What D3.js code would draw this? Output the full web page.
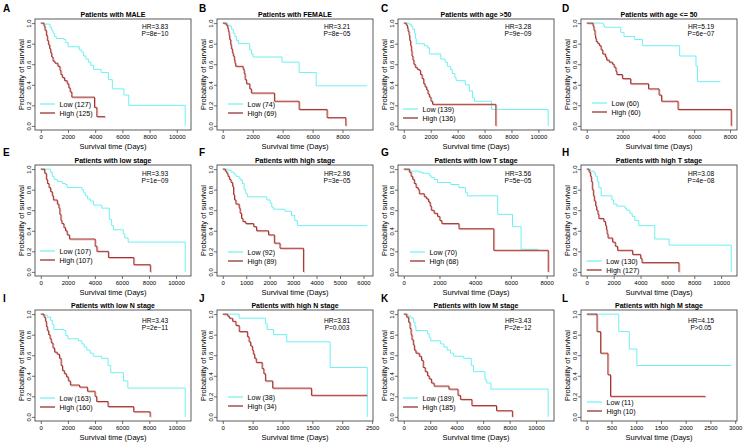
<!DOCTYPE html>
<html lang="en">
<head>
<meta charset="UTF-8">
<title>Survival by subgroup</title>
<script src="https://d3js.org/d3.v7.min.js"></script>
<style>
  body { margin: 0; background: #fff; }
  svg text { font-family: "Liberation Sans", Arial, Helvetica, sans-serif; fill: #000; }
</style>
</head>
<body>
<svg id="chart" width="747" height="443"></svg>
<script>
// panel text
var letters = ["A", "B", "C", "D", "E", "F", "G", "H", "I", "J", "K", "L"];
var titles = ["Patients with MALE", "Patients with FEMALE", "Patients with age >50", "Patients with age <= 50",
  "Patients with low stage", "Patients with high stage", "Patients with low T stage", "Patients with high T stage",
  "Patients with low N stage", "Patients with high N stage", "Patients with low M stage", "Patients with high M stage"];
var hrText = ["HR=3.83", "HR=3.21", "HR=3.28", "HR=5.19", "HR=3.93", "HR=2.96", "HR=3.56", "HR=3.08",
  "HR=3.43", "HR=3.81", "HR=3.43", "HR=4.15"];
var pText = ["P=8e\u221210", "P=8e\u221205", "P=9e\u221209", "P=6e\u221207", "P=1e\u221209", "P=3e\u221205", "P=5e\u221205", "P=4e\u221208",
  "P=2e\u221211", "P=0.003", "P=2e\u221212", "P>0.05"];
var lowN = [127, 74, 139, 60, 107, 92, 70, 130, 163, 38, 189, 11];
var highN = [125, 69, 136, 60, 107, 89, 68, 127, 160, 34, 185, 10];

var ticks10k = [0, 2000, 4000, 6000, 8000, 10000];
var ticks8k = [0, 2000, 4000, 6000, 8000];
var ticks6k = [0, 1000, 2000, 3000, 4000, 5000, 6000];
var ticks2500 = [0, 500, 1000, 1500, 2000, 2500];
var ticks3000 = [0, 500, 1000, 1500, 2000, 2500, 3000];
var xTicks = [ticks10k, ticks8k, ticks10k, ticks8k, ticks10k, ticks6k, ticks8k, ticks10k, ticks10k, ticks2500, ticks10k, ticks3000];
var yTicks = [0, 0.2, 0.4, 0.6, 0.8, 1.0];

// survival steps: [day, survival after that day]
var maleLow = [[0,1],[240,0.99],[680,0.96],[800,0.93],[900,0.90],[1020,0.87],[1140,0.85],[1700,0.84],[1840,0.81],[2010,0.77],[2840,0.74],[2980,0.72],[3150,0.68],[3320,0.65],[3520,0.62],[3680,0.59],[3880,0.55],[4440,0.52],[4970,0.45],[5260,0.36],[6110,0.30],[6470,0.20],[10620,0]];
var maleHigh = [[0,1],[240,0.97],[310,0.93],[410,0.88],[480,0.83],[560,0.79],[650,0.75],[730,0.71],[800,0.67],[900,0.63],[1040,0.61],[1260,0.58],[1410,0.54],[1480,0.50],[1580,0.47],[1750,0.44],[1940,0.41],[2060,0.37],[2160,0.33],[2280,0.28],[3950,0.18],[4120,0.09],[4730,0.09]];
var femaleLow = [[0,1],[330,0.98],[480,0.97],[590,0.94],[700,0.90],[810,0.87],[920,0.83],[1040,0.80],[1800,0.74],[1920,0.70],[2020,0.67],[3960,0.62],[5100,0.52],[6240,0.39],[9650,0.39]];
var femaleHigh = [[0,1],[220,0.98],[330,0.95],[370,0.92],[420,0.88],[460,0.84],[530,0.79],[570,0.75],[640,0.71],[700,0.68],[770,0.64],[810,0.61],[860,0.58],[1360,0.55],[1430,0.51],[1490,0.45],[1580,0.41],[1800,0.36],[1910,0.32],[3450,0.24],[5100,0.16],[6970,0.08],[8220,0]];
var oldLow = [[0,1],[370,0.99],[550,0.97],[670,0.94],[800,0.90],[880,0.85],[925,0.80],[1530,0.78],[1780,0.76],[1900,0.70],[2750,0.65],[3070,0.62],[3240,0.58],[3480,0.55],[3600,0.51],[3800,0.47],[3890,0.44],[4570,0.40],[4870,0.34],[5110,0.27],[5260,0.24],[6520,0.16],[10730,0]];
var oldHigh = [[0,1],[190,0.98],[270,0.95],[320,0.92],[390,0.88],[440,0.83],[510,0.78],[560,0.73],[610,0.68],[680,0.64],[750,0.60],[850,0.57],[1000,0.55],[1170,0.54],[1240,0.50],[1360,0.46],[1480,0.41],[1580,0.38],[1700,0.35],[1800,0.31],[1900,0.28],[2020,0.24],[2140,0.21],[6840,0]];
var youngLow = [[0,1],[930,0.98],[990,0.96],[1900,0.91],[2080,0.87],[2680,0.84],[3120,0.78],[5190,0.68],[6100,0.58],[6190,0.43],[7470,0.43]];
var youngHigh = [[0,1],[350,0.97],[400,0.93],[460,0.88],[490,0.85],[530,0.82],[620,0.80],[710,0.78],[800,0.74],[890,0.70],[1040,0.67],[1110,0.64],[1260,0.62],[1440,0.60],[1530,0.57],[1630,0.53],[1680,0.50],[1990,0.46],[2450,0.41],[3450,0.36],[4040,0.30],[4180,0.24],[5100,0.16],[8070,0]];
var lowStageLow = [[0,1],[730,0.97],[850,0.93],[980,0.90],[1220,0.88],[1590,0.86],[1830,0.85],[1950,0.82],[3050,0.80],[3170,0.77],[3290,0.74],[3460,0.71],[3660,0.69],[3900,0.65],[4510,0.62],[5070,0.51],[5240,0.45],[5370,0.41],[6100,0.37],[6220,0.33],[6460,0.29],[10680,0]];
var lowStageHigh = [[0,1],[290,0.96],[410,0.90],[490,0.86],[610,0.82],[730,0.78],[850,0.74],[930,0.70],[1220,0.66],[1340,0.62],[1410,0.56],[1490,0.50],[1560,0.47],[1710,0.43],[1830,0.40],[1950,0.36],[2120,0.32],[4020,0.25],[4150,0.20],[5000,0.14],[6880,0.07],[8100,0]];
var highStageLow = [[0,1],[210,0.99],[350,0.97],[490,0.95],[560,0.93],[700,0.91],[770,0.89],[840,0.86],[910,0.80],[980,0.76],[1050,0.73],[1880,0.70],[2020,0.67],[2090,0.63],[2160,0.61],[2650,0.59],[2930,0.55],[3070,0.50],[3180,0.45],[6160,0.45]];
var highStageHigh = [[0,1],[110,0.98],[170,0.96],[220,0.93],[280,0.90],[350,0.87],[420,0.83],[460,0.75],[500,0.70],[560,0.66],[700,0.62],[740,0.57],[800,0.52],[860,0.49],[980,0.47],[1320,0.44],[1440,0.40],[1950,0.36],[2200,0.28],[2440,0.23],[3440,0]];
var lowTLow = [[0,1],[370,0.98],[870,0.97],[1060,0.96],[1430,0.94],[1520,0.92],[1700,0.90],[1890,0.87],[2630,0.85],[3090,0.82],[3460,0.77],[3560,0.74],[5260,0.56],[6090,0.44],[6570,0.22],[7540,0.22]];
var lowTHigh = [[0,1],[310,0.97],[410,0.93],[500,0.90],[590,0.86],[690,0.82],[810,0.80],[870,0.76],[1150,0.73],[1280,0.71],[1390,0.68],[1480,0.64],[1540,0.60],[1700,0.57],[1890,0.54],[2020,0.50],[2130,0.47],[3090,0.42],[5040,0.21],[8090,0]];
var highTLow = [[0,1],[290,0.98],[540,0.96],[660,0.93],[780,0.88],[900,0.82],[1070,0.74],[1870,0.70],[2000,0.66],[2240,0.64],[2850,0.62],[2970,0.60],[3210,0.57],[3380,0.54],[3580,0.50],[3870,0.45],[5060,0.32],[6130,0.26],[10750,0]];
var highTHigh = [[0,1],[170,0.97],[270,0.93],[340,0.88],[410,0.80],[490,0.74],[560,0.69],[660,0.64],[730,0.60],[830,0.56],[900,0.52],[1270,0.49],[1390,0.45],[1460,0.41],[1510,0.37],[1580,0.33],[1920,0.29],[2120,0.25],[2290,0.21],[3410,0.17],[4010,0.13],[4110,0.09],[6860,0]];
var lowNLow = [[0,1],[190,0.99],[480,0.97],[730,0.94],[850,0.90],[970,0.85],[1690,0.84],[1840,0.79],[2010,0.76],[2780,0.74],[3030,0.71],[3200,0.68],[3390,0.65],[3630,0.62],[3870,0.59],[4480,0.57],[4960,0.50],[5160,0.43],[6100,0.35],[6420,0.28],[10650,0]];
var lowNHigh = [[0,1],[240,0.97],[340,0.93],[410,0.88],[480,0.84],[580,0.80],[680,0.76],[770,0.72],[900,0.67],[1020,0.63],[1210,0.61],[1380,0.57],[1500,0.50],[1600,0.45],[1740,0.42],[1890,0.39],[2030,0.35],[2180,0.31],[2860,0.29],[3440,0.25],[4000,0.20],[4120,0.15],[4960,0.10],[6850,0.05],[8060,0]];
var highNLow = [[0,1],[275,0.96],[714,0.91],[742,0.85],[852,0.80],[1071,0.73],[1797,0.48],[2418,0]];
var highNHigh = [[0,1],[82,0.98],[110,0.96],[165,0.93],[220,0.89],[275,0.83],[412,0.78],[440,0.73],[467,0.69],[495,0.65],[511,0.61],[533,0.57],[560,0.53],[659,0.47],[687,0.42],[714,0.35],[835,0.28],[1484,0.21],[2418,0.21]];
var lowMLow = [[0,1],[300,0.98],[550,0.96],[750,0.92],[850,0.88],[920,0.84],[1790,0.81],[1920,0.77],[2040,0.74],[2790,0.71],[3030,0.68],[3280,0.65],[3530,0.62],[3780,0.59],[4530,0.57],[5100,0.50],[5270,0.44],[6140,0.36],[6270,0.33],[6590,0.27],[10920,0]];
var lowMHigh = [[0,1],[220,0.97],[370,0.92],[470,0.86],[550,0.80],[620,0.75],[720,0.70],[800,0.65],[920,0.62],[1170,0.59],[1340,0.55],[1470,0.48],[1620,0.44],[1790,0.40],[1920,0.37],[2090,0.33],[2290,0.30],[3410,0.27],[4100,0.21],[4280,0.17],[5150,0.11],[7010,0.06],[8210,0]];
var highMLow = [[0,1],[647,0.83],[860,0.66],[1013,0.50],[2920,0.50]];
var highMHigh = [[0,1],[207,0.83],[280,0.62],[427,0.41],[480,0.20],[2400,0.20]];

var lowCurves = [maleLow, femaleLow, oldLow, youngLow, lowStageLow, highStageLow, lowTLow, highTLow, lowNLow, highNLow, lowMLow, highMLow];
var highCurves = [maleHigh, femaleHigh, oldHigh, youngHigh, lowStageHigh, highStageHigh, lowTHigh, highTHigh, lowNHigh, highNHigh, lowMHigh, highMHigh];

// layout
var colLeft = [35, 217, 398, 581];
var rowTop = [19, 165, 310];
var boxW = 156, boxH = 111;
var letterX = [3, 199, 381, 562];
var letterY = [11.5, 156, 302];
var hrDy = [9.5, 11, 12.5];
var legendDx = [5, 11, 5, 11, 5, 11, 12, 5.7, 5, 11, 5, 6];
var legendDy = [-26, -26, -21, -27, -25, -24, -24, -15, -23, -24, -23, -19];

var lowColor = "#6ff0f0", highColor = "#a3302c", highShade = "#e2b4b2";

var svg = d3.select("#chart");
svg.append("rect").attr("width", 747).attr("height", 443).attr("fill", "#fff");

function drawPanel(i) {
  var col = i % 4, row = Math.floor(i / 4);
  var bx = colLeft[col], by = rowTop[row], bb = by + boxH;
  var tMax = Math.max(d3.max(lowCurves[i], function(d) { return d[0]; }),
                      d3.max(highCurves[i], function(d) { return d[0]; }));
  var x = d3.scaleLinear().domain([-0.04 * tMax, 1.04 * tMax]).range([bx, bx + boxW]);
  var y = d3.scaleLinear().domain([-0.04, 1.04]).range([bb, by]);
  var g = svg.append("g");

  var line = d3.line()
    .x(function(d) { return x(d[0]); })
    .y(function(d) { return y(d[1]); })
    .curve(d3.curveStepAfter);

  g.append("path").datum(lowCurves[i]).attr("d", line)
    .attr("fill", "none").attr("stroke", lowColor).attr("stroke-width", 1);
  g.append("path").datum(highCurves[i]).attr("d", line)
    .attr("transform", "translate(0.9,0.9)")
    .attr("fill", "none").attr("stroke", highShade).attr("stroke-width", 1);
  g.append("path").datum(highCurves[i]).attr("d", line)
    .attr("fill", "none").attr("stroke", highColor).attr("stroke-width", 1);

  // box
  g.append("rect").attr("x", bx).attr("y", by).attr("width", boxW).attr("height", boxH)
    .attr("fill", "none").attr("stroke", "#4a4a4a").attr("stroke-width", 0.9);

  // x axis
  var xa = g.append("g").attr("transform", "translate(0," + bb + ")")
    .call(d3.axisBottom(x).tickValues(xTicks[i]).tickSize(3).tickPadding(1.3).tickFormat(d3.format("d")));
  xa.select(".domain").remove();
  xa.selectAll("line").attr("stroke", "#4a4a4a").attr("stroke-width", 0.8);
  xa.selectAll("text").attr("font-size", 6).attr("fill", "#000")
    .attr("font-family", "Liberation Sans, Arial, sans-serif");

  // y axis, labels parallel to axis
  var ya = g.append("g").attr("transform", "translate(" + bx + ",0)")
    .call(d3.axisLeft(y).tickValues(yTicks).tickSize(3).tickFormat(d3.format(".1f")));
  ya.select(".domain").remove();
  ya.selectAll("line").attr("stroke", "#4a4a4a").attr("stroke-width", 0.8);
  ya.selectAll("text").attr("x", null).attr("dy", null)
    .attr("transform", "translate(-4.2,0) rotate(-90)")
    .attr("text-anchor", "middle").attr("font-size", 6).attr("fill", "#000")
    .attr("font-family", "Liberation Sans, Arial, sans-serif");

  // titles
  g.append("text").attr("x", bx + boxW / 2).attr("y", by - 2.5)
    .attr("text-anchor", "middle").attr("font-size", 7).attr("font-weight", "bold")
    .text(titles[i]);
  g.append("text").attr("x", letterX[col]).attr("y", letterY[row])
    .attr("font-size", 10).attr("font-weight", "bold").text(letters[i]);
  g.append("text").attr("x", bx + boxW / 2).attr("y", bb + 19)
    .attr("text-anchor", "middle").attr("font-size", 7.5).text("Survival time (Days)");
  g.append("text")
    .attr("transform", "translate(" + (bx - 11.5) + "," + (by + boxH / 2) + ") rotate(-90)")
    .attr("text-anchor", "middle").attr("font-size", 7.5).text("Probability of survival");

  // HR / P
  g.append("text").attr("x", bx + 120).attr("y", by + hrDy[row])
    .attr("text-anchor", "middle").attr("font-size", 6.6).text(hrText[i]);
  g.append("text").attr("x", bx + 120).attr("y", by + hrDy[row] + 7.2)
    .attr("text-anchor", "middle").attr("font-size", 6.6).text(pText[i]);

  // legend
  var lx = bx + legendDx[i], ly = bb + legendDy[i];
  var items = [["Low (" + lowN[i] + ")", lowColor], ["High (" + highN[i] + ")", "#8e2424"]];
  items.forEach(function(it, k) {
    var yy = ly + k * 9;
    g.append("line").attr("x1", lx).attr("x2", lx + 15).attr("y1", yy).attr("y2", yy)
      .attr("stroke", it[1]).attr("stroke-width", 1.2);
    g.append("text").attr("x", lx + 19.5).attr("y", yy + 2.6)
      .attr("font-size", 7.1).text(it[0]);
  });
}

for (var p = 0; p < 12; p++) drawPanel(p);
</script>
</body>
</html>
